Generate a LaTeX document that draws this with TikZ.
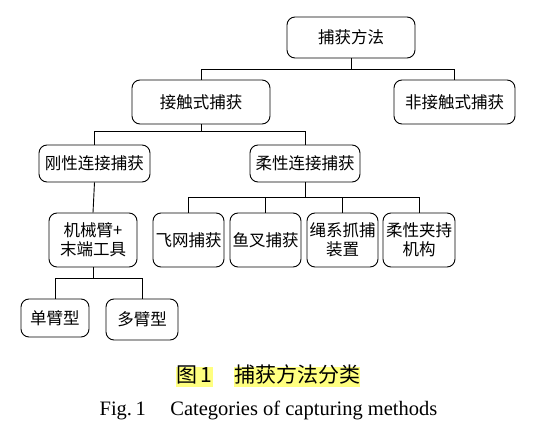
\documentclass[tikz,border=0pt]{standalone}
\usepackage{fontspec}
\setmainfont{Liberation Serif}
\newfontfamily\cjk{Noto Sans CJK SC}
\definecolor{hilite}{RGB}{255,255,128}
\tikzset{
  box/.style={draw, rounded corners=8pt, line width=0.9pt, align=center,
    inner sep=1pt, font=\cjk\fontsize{16.5}{19}\selectfont},
  link/.style={line width=0.9pt},
  mark cn/.style={fill=hilite, inner sep=0pt, text height=15pt, text depth=5pt,
    font=\cjk\fontsize{21}{24}\selectfont}
}
\begin{document}
\begin{tikzpicture}[x=1pt,y=-1pt]
\useasboundingbox (0,0) rectangle (552,431);
% level 0 and 1
\node[box, minimum width=128pt, minimum height=41pt] (fa) at (351,37.5) {捕获方法};
\node[box, minimum width=138pt, minimum height=44pt] (jc) at (201,102) {接触式捕获};
\node[box, minimum width=121pt, minimum height=44pt] (fjc) at (454.5,102) {非接触式捕获};
% level 2
\node[box, minimum width=111pt, minimum height=37pt] (gx) at (94.5,163.5) {刚性连接捕获};
\node[box, minimum width=110pt, minimum height=37pt] (rx) at (305,163.5) {柔性连接捕获};
% level 3
\node[box, minimum width=88pt, minimum height=54pt] (jxb) at (93,240) {机械臂+\\末端工具};
\node[box, minimum width=71pt, minimum height=54pt] (fw) at (188.5,240) {飞网捕获};
\node[box, minimum width=71pt, minimum height=54pt] (yc) at (265.5,240) {鱼叉捕获};
\node[box, minimum width=71pt, minimum height=54pt] (sx) at (342.5,240) {绳系抓捕\\装置};
\node[box, minimum width=72pt, minimum height=54pt] (rj) at (419,240) {柔性夹持\\机构};
% level 4
\node[box, minimum width=68pt, minimum height=38pt] (dan) at (55,318) {单臂型};
\node[box, minimum width=72pt, minimum height=41pt] (duo) at (142,319.5) {多臂型};

\draw[link] (fa.south) -- ++(0,11) -| (jc.north);
\draw[link] (fa.south) -- ++(0,11) -| (fjc.north);
\draw[link] (jc.south) -- ++(0,7) -| (gx.north);
\draw[link] (jc.south) -- ++(0,7) -| (rx.north);
\draw[link] (gx.south) -- (jxb.north);
\foreach \c in {fw,yc,sx,rj}
  \draw[link] (rx.south) -- ++(0,15) -| (\c.north);
\draw[link] (jxb.south) -- ++(0,11) -| (dan.north);
\draw[link] (jxb.south) -- ++(0,11) -| (duo.north);

% caption
\node[mark cn] (tu) at (194.5,377) {图\,1};
\node[mark cn] (title) at (297,377) {捕获方法分类};
\node[font=\fontsize{20.5}{24}\selectfont] (eng) at (268.5,410) {Fig.\,1\hspace{1.2em}Categories of capturing methods};
\end{tikzpicture}
\end{document}
